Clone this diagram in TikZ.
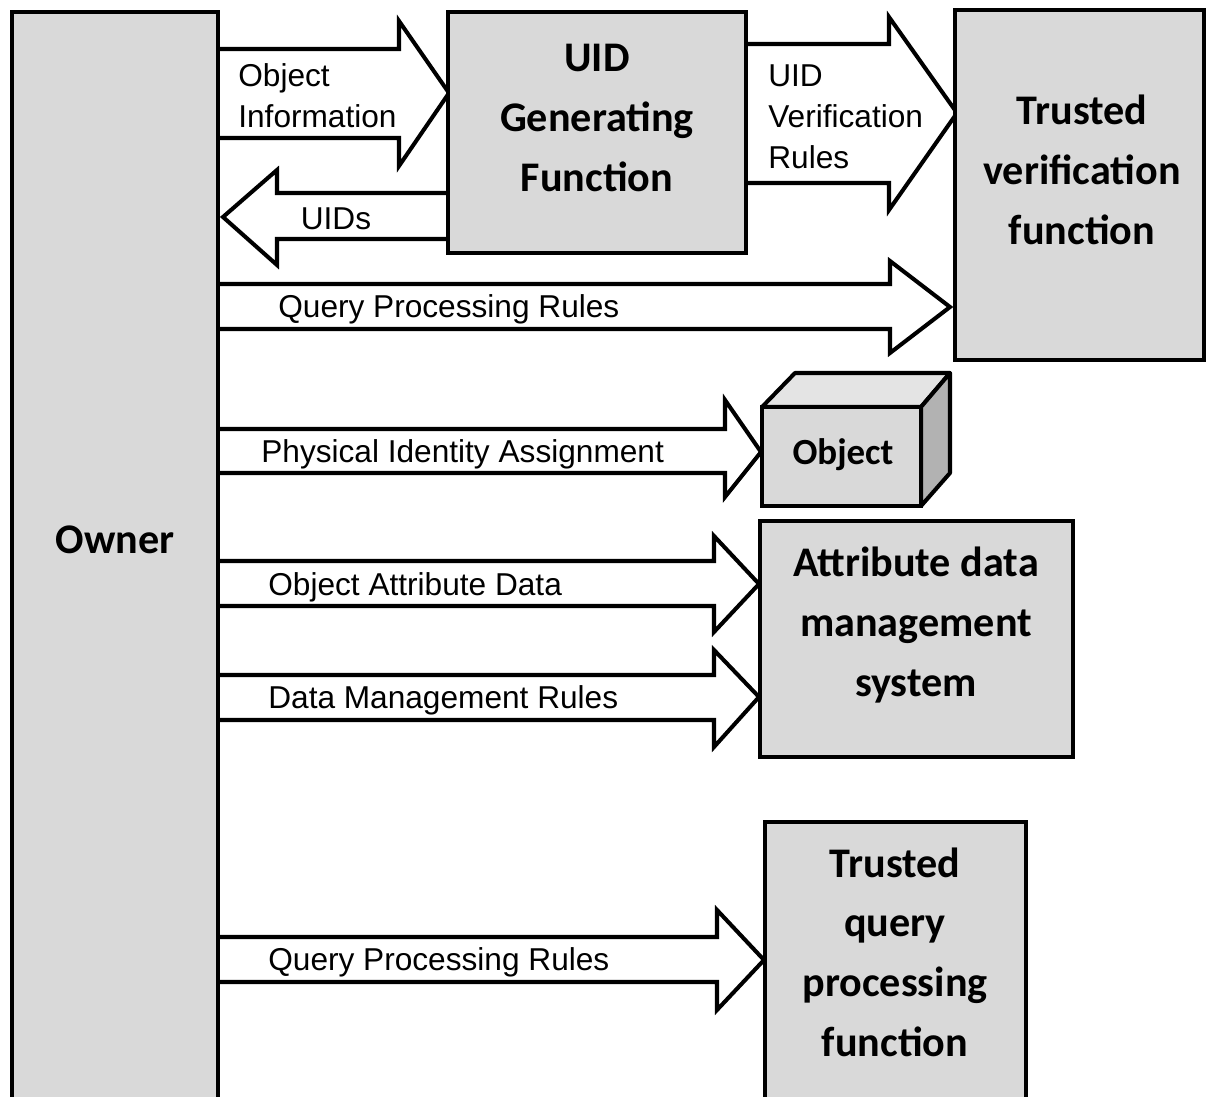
\documentclass[tikz,border=0pt]{standalone}
\usepackage{fontspec}
\setmainfont{Liberation Sans}
\newfontfamily\calfont{Carlito}
\definecolor{boxgray}{HTML}{D9D9D9}
\definecolor{topgray}{HTML}{E4E4E4}
\definecolor{sidegray}{HTML}{B2B2B2}
\tikzset{
  blk/.style={draw=black, line width=2.3pt, fill=boxgray, line join=miter},
  arr/.style={draw=black, line width=2.3pt, fill=white, line join=miter},
  lbl/.style={font=\fontsize{18}{23.3}\selectfont, align=left, inner sep=0pt},
  ttl/.style={font=\calfont\bfseries\fontsize{24}{34}\selectfont, align=center, inner sep=0pt},
}
\begin{document}
\begin{tikzpicture}[x=0.02cm, y=-0.02cm]
\clip (0,0) rectangle (1208,1097);
\fill[white] (0,0) rectangle (1208,1097);

% block arrows
\draw[arr] (220,49) -- (399,49) -- (399,21) -- (449,93) -- (399,166) -- (399,138) -- (220,138);
\draw[arr] (446,193) -- (277,193) -- (277,170) -- (223,217) -- (277,265) -- (277,239) -- (446,239);
\draw[arr] (220,284) -- (890,284) -- (890,261) -- (950,307) -- (890,353) -- (890,329) -- (220,329);
\draw[arr] (748,44) -- (889,44) -- (889,17) -- (957,113) -- (889,210) -- (889,183) -- (748,183);
\draw[arr] (220,429) -- (725,429) -- (725,400) -- (761,452) -- (725,497) -- (725,473) -- (220,473);
\draw[arr] (220,561) -- (714,561) -- (714,536) -- (759,584) -- (714,632) -- (714,606) -- (220,606);
\draw[arr] (220,675) -- (714,675) -- (714,650) -- (759,697) -- (714,747) -- (714,720) -- (220,720);
\draw[arr] (220,937) -- (717,937) -- (717,910) -- (764,960) -- (717,1010) -- (717,982) -- (220,982);

% arrow labels
\node[lbl, anchor=west] (l1) at (238,96) {Object\\Information};
\node[lbl] (l2) at (336,219) {UIDs};
\node[lbl, anchor=west] (l3) at (278,309) {Query Processing Rules};
\node[lbl, anchor=west] (l4) at (768,117) {UID\\Verification\\Rules};
\node[lbl, anchor=west] (l5) at (261,454) {Physical Identity Assignment};
\node[lbl, anchor=west] (l6) at (268,587) {Object Attribute Data};
\node[lbl, anchor=west] (l7) at (268,700) {Data Management Rules};
\node[lbl, anchor=west] (l8) at (268,962) {Query Processing Rules};

% boxes
\draw[blk] (12,1130) -- (12,12) -- (218,12) -- (218,1130);
\node[ttl] (owner) at (115,540) {Owner};

\draw[blk] (448,12) rectangle (746,253);
\node[ttl] (uid) at (597,118) {UID\\Generating\\Function};

\draw[blk] (955,10) rectangle (1204,360);
\node[ttl] (tvf) at (1082,170) {Trusted\\verification\\function};

% object cube
\draw[blk, fill=topgray, line join=round] (762,407) -- (795,373) -- (950,373) -- (921,407) -- cycle;
\draw[blk, fill=sidegray, line join=round] (921,407) -- (950,373) -- (950,473) -- (921,506) -- cycle;
\draw[blk] (762,407) rectangle (921,506);
\node[ttl, font=\calfont\bfseries\fontsize{21}{30}\selectfont] (obj) at (843,455) {Object};

\draw[blk] (760,521) rectangle (1073,757);
\node[ttl] (adms) at (916,625) {Attribute data\\management\\system};

\draw[blk] (765,822) -- (1026,822) -- (1026,1130) -- (765,1130) -- cycle;
\node[ttl] (tqp) at (895,952) {Trusted\\query\\processing\\function};
\end{tikzpicture}
\end{document}
